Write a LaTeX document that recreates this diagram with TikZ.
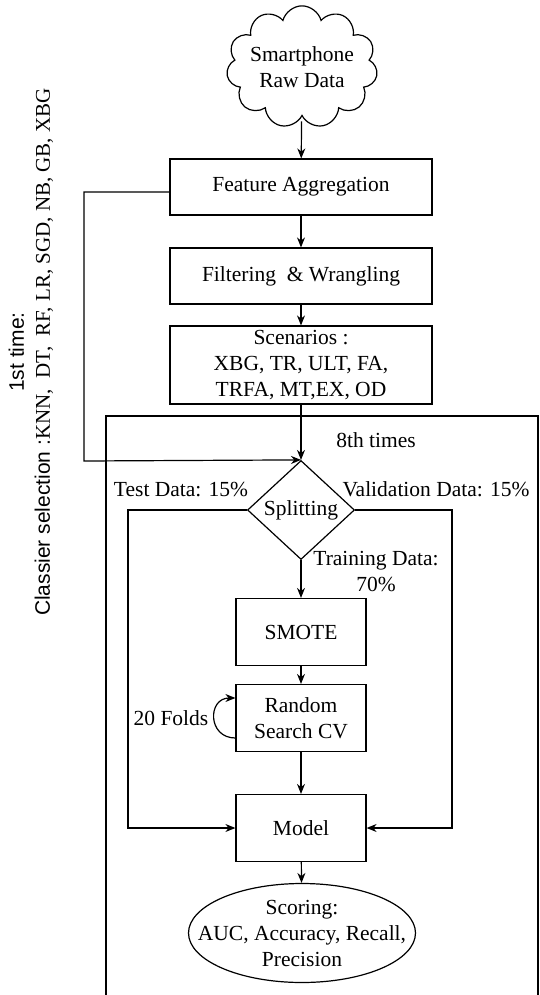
\documentclass[tikz,border=0pt]{standalone}
\usepackage{fontspec}
\setmainfont{Liberation Serif}
\setsansfont{Liberation Sans}
\usetikzlibrary{arrows.meta,shapes.geometric,shapes.symbols}

\begin{document}
\begin{tikzpicture}[->,>={Stealth[length=10pt,width=8pt]},x=1pt,y=-1pt,
                    line width=1.2pt,font=\fontsize{21.5}{26}\selectfont]
  \tikzstyle{box}=[draw=black,rectangle,align=center,inner sep=0pt]
  \tikzstyle{wide box}=[box,minimum width=262pt,minimum height=56pt]
  \tikzstyle{small box}=[box,minimum width=130pt,minimum height=67pt]
  \tikzstyle{note}=[align=center,inner sep=0pt]

  \useasboundingbox (0,0) rectangle (539,995);

  \node[draw,cloud,cloud puffs=11,aspect=1.4,align=center,inner xsep=-4pt,inner ysep=-9pt,
        minimum width=140pt,minimum height=92pt] (raw) at (302,67) {Smartphone\\Raw Data};
  \node[wide box]  (fa)    at (301,187) {Feature Aggregation};
  \node[wide box]  (fw)    at (301,276) {Filtering~ \& Wrangling};
  \node[wide box,minimum height=78pt] (scen) at (301,365)
        {Scenarios :\\XBG, TR, ULT, FA,\\TRFA, MT,EX, OD};
  \node[draw,diamond,inner sep=0pt,minimum width=107pt,minimum height=99pt]
        (split) at (301,510) {Splitting};
  \node[small box] (smote) at (301,632) {SMOTE};
  \node[small box] (rscv)  at (301,718) {Random\\Search CV};
  \node[small box] (model) at (301,828) {Model};
  \node[draw,ellipse,align=center,inner xsep=-25pt,inner ysep=-5pt,
        minimum width=227pt,minimum height=99pt] (score) at (302,933)
        {Scoring:\\AUC, Accuracy, Recall,\\Precision};

  % labels
  \node[note] (times) at (376,440) {8th times};
  \node[note] (test)  at (181,489) {Test Data: 15\%};
  \node[note] (valid) at (436,489) {Validation Data: 15\%};
  \node[note] (train) at (376,572) {Training Data:\\70\%};
  \node[note] (folds) at (171,718) {20 Folds};
  \node[note,rotate=90,font=\fontsize{21}{26}\selectfont\sffamily] (cls) at (31,352)
        {1st time:\\Classier selection :\rmfamily KNN,~ DT,~ RF, LR, SGD, NB, GB, XBG};

  \coordinate (sel)   at (84,461);
  \coordinate (tcorn) at (128,510);
  \coordinate (vcorn) at (452,510);

  \path (raw)   edge [shorten <=4pt] (fa)
        (fa)    edge (fw)
        (fw)    edge (scen)
        (scen)  edge (split)
        (split) edge (smote)
        (smote) edge (rscv)
        (rscv)  edge (model)
        (model) edge (score);

  \draw ([yshift=-5pt]fa.west) -| (sel) -- (split.north);
  \draw (split.west) -- (tcorn) |- (model.west);
  \draw (split.east) -- (vcorn) |- (model.east);
  \draw ([yshift=-20pt]rscv.west) .. controls +(-28,0) and +(-28,0) .. ([yshift=20pt]rscv.west);

  % outer loop frame
  \draw[-] (106,1000) |- (538,416) -- (538,1000);
\end{tikzpicture}
\end{document}
